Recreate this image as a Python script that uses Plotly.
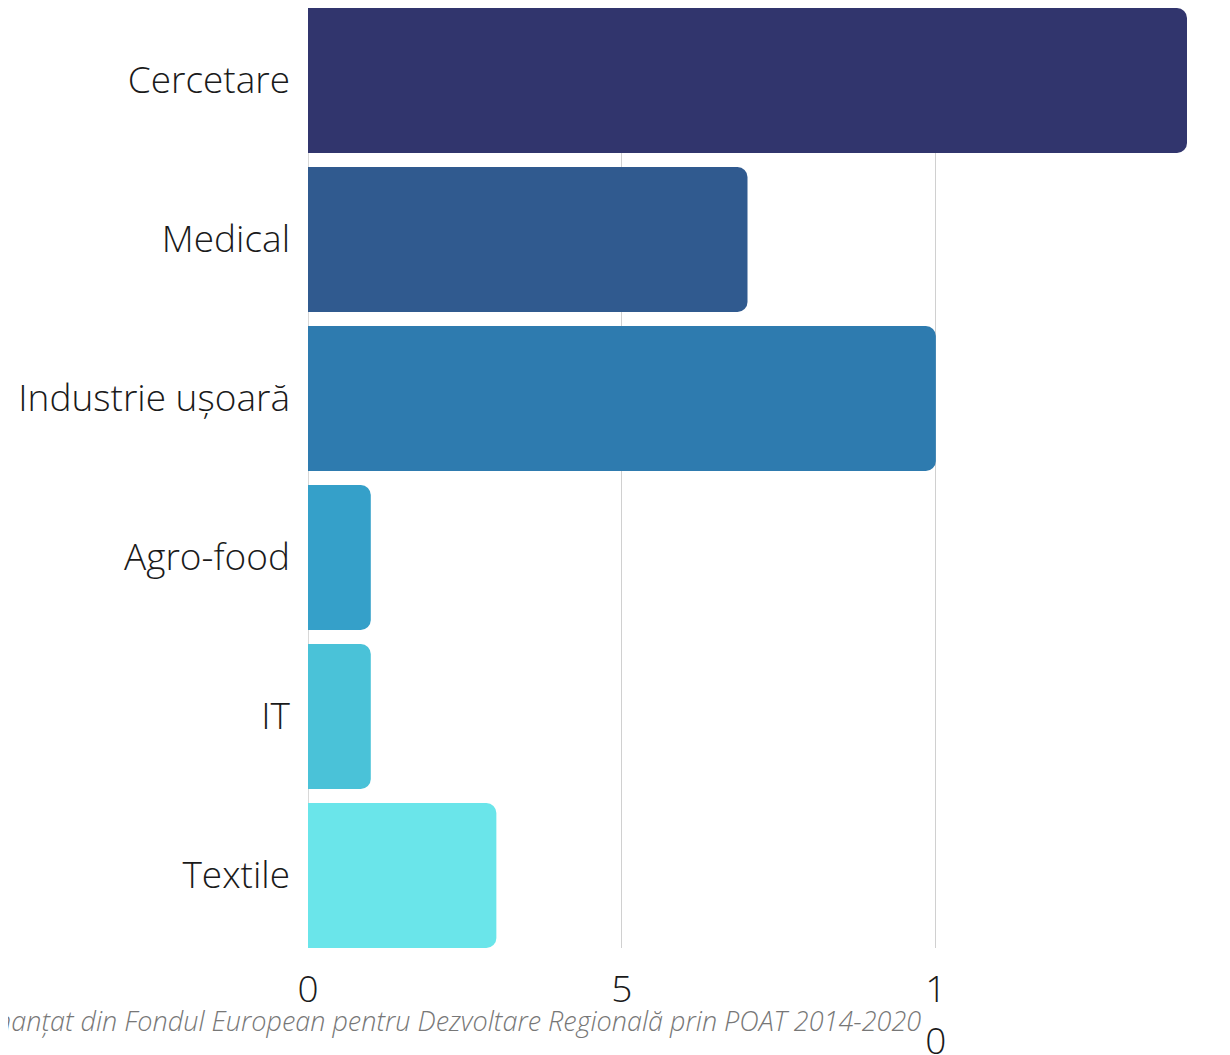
import plotly.graph_objects as go

categories = ["Cercetare", "Medical", "Industrie ușoară", "Agro-food", "IT", "Textile"]
values = [14, 7, 10, 1, 1, 3]
colors = ["#31356d", "#305a8f", "#2e7baf", "#35a0c9", "#4ac2d8", "#6ae5ea"]
tick_vals = [0, 5, 10]
tick_text = ["0", "5", "1<br>0"]
footer = "Proiect cofinanțat din Fondul European pentru Dezvoltare Regională prin POAT 2014-2020"

BARGAP = 0.088
half = (1 - BARGAP) / 2

fig = go.Figure(go.Bar(
    y=categories, x=values, orientation="h",
    marker=dict(color=colors, line=dict(width=0), cornerradius=10),
))

fig.update_layout(
    width=1222, height=1047,
    margin=dict(l=300, r=43, t=0, b=107),
    paper_bgcolor="white", plot_bgcolor="white",
    bargap=BARGAP,
    showlegend=False,
    font=dict(family="Open Sans", color="#1a1a1a", size=37, weight=300),
    xaxis=dict(range=[0, 14], tickvals=tick_vals,
               ticktext=[f'<span style="font-size:37px">{t}</span>' for t in tick_text],
               showgrid=True, gridcolor="#d0d0d0", gridwidth=1,
               zeroline=True, zerolinecolor="#d8d8d8", zerolinewidth=1,
               automargin=False,
               ticklabelstandoff=13, tickfont=dict(size=40, weight=300),
               fixedrange=True),
    yaxis=dict(range=[len(categories) - 1 + half, -half],
               showgrid=False, zeroline=False, automargin=False,
               ticklabelstandoff=17, tickfont=dict(size=37, weight=300)),
)

fig.add_annotation(
    text=footer, xref="paper", yref="paper",
    x=(923 - 308) / 879, y=-0.0766, xanchor="right", yanchor="middle",
    showarrow=False,
    font=dict(family="Open Sans", size=27, color="#777", style="italic"),
)

fig.write_html("out.html")
